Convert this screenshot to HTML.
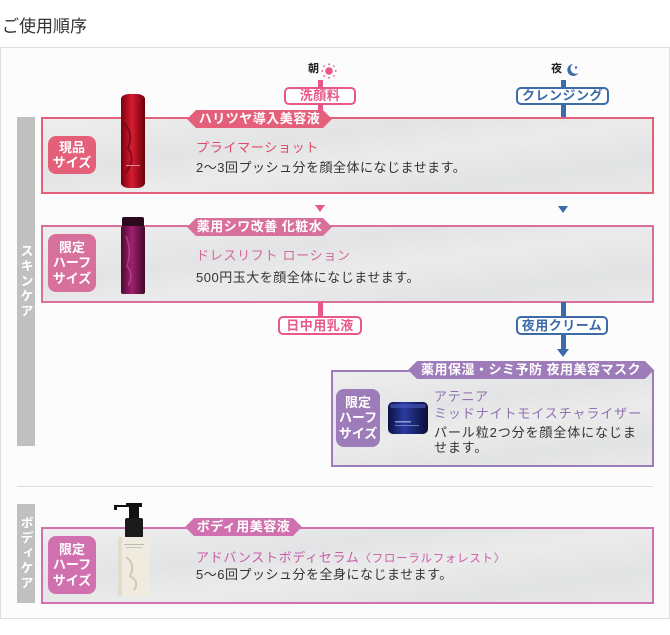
<!DOCTYPE html>
<html><head><meta charset="utf-8">
<style>
*{margin:0;padding:0;box-sizing:border-box}
body{width:670px;height:635px;background:#fff;position:relative;overflow:hidden;font-family:"Liberation Sans","Noto Sans CJK JP",sans-serif;color:#333}
.a{position:absolute}
.title{left:2px;top:16px;font-size:17px;line-height:21px;color:#333}
.outer{left:0;top:47px;width:670px;height:572px;border:1px solid #ddd;background:#fcfcfc}
.side{background:#c0c0c0;color:#fff;font-weight:bold;font-size:13px;writing-mode:vertical-rl;text-align:center;display:flex;align-items:center;justify-content:center;letter-spacing:2px}
.box{border:2px solid;background:linear-gradient(172deg,#eeeeee 0%,#e3e4e5 35%,#ebebeb 55%,#e2e3e4 80%,#e9e9e9 100%)}
.rib{color:#fff;font-weight:bold;font-size:13px;line-height:18px;height:18px;text-align:center;clip-path:polygon(0 50%,9px 0,calc(100% - 9px) 0,100% 50%,calc(100% - 9px) 100%,9px 100%);letter-spacing:0.5px}
.badge{color:#fff;font-weight:bold;font-size:13px;border-radius:8px;text-align:center;display:flex;flex-direction:column;justify-content:center;line-height:15.5px}
.lbl{background:#fff;border:2px solid;border-radius:5px;font-weight:bold;font-size:13px;line-height:14px;text-align:center;letter-spacing:0.5px}
.nm{font-size:13px;line-height:13px;white-space:nowrap;letter-spacing:0.7px}
.ds{font-size:13px;line-height:13px;white-space:nowrap;color:#333;letter-spacing:0.5px}
.vl{width:5px}
.tri{width:0;height:0;border-left:5.5px solid transparent;border-right:5.5px solid transparent;border-top:7px solid}
</style></head><body>
<div class="a title">ご使用順序</div>
<div class="a outer"></div>

<!-- side bars -->
<div class="a side" style="left:17px;top:117px;width:18px;height:329px">スキンケア</div>
<div class="a side" style="left:17px;top:504px;width:18px;height:99px">ボディケア</div>
<div class="a" style="left:17px;top:486px;width:636px;height:1px;background:#ddd"></div>

<!-- morning / night -->
<div class="a" style="left:308px;top:63px;font-size:11px;line-height:13px;font-weight:bold;color:#222">朝</div>
<svg class="a" style="left:321px;top:63px" width="16" height="16" viewBox="0 0 16 16">
<circle cx="8" cy="8" r="3.8" fill="#e8588a"/>
<g fill="#e8588a"><rect x="7.2" y="0.5" width="1.6" height="1.6"/><rect x="7.2" y="13.9" width="1.6" height="1.6"/><rect x="0.5" y="7.2" width="1.6" height="1.6"/><rect x="13.9" y="7.2" width="1.6" height="1.6"/><rect x="2.4" y="2.4" width="1.5" height="1.5"/><rect x="12.1" y="2.4" width="1.5" height="1.5"/><rect x="2.4" y="12.1" width="1.5" height="1.5"/><rect x="12.1" y="12.1" width="1.5" height="1.5"/></g></svg>
<div class="a" style="left:551px;top:63px;font-size:11px;line-height:13px;font-weight:bold;color:#222">夜</div>
<svg class="a" style="left:566px;top:63px" width="13" height="14" viewBox="0 0 13 14">
<path d="M7 1 A6 6 0 1 0 12.5 10 A5 5 0 0 1 7 1 Z" fill="#3b6ba8"/><circle cx="10" cy="4.5" r="1.2" fill="#3b6ba8"/></svg>

<!-- top connectors -->
<div class="a vl" style="left:318px;top:80px;height:38px;background:#e8588a"></div>
<div class="a vl" style="left:561px;top:80px;height:38px;background:#3b6ba8"></div>
<div class="a lbl" style="left:284px;top:87px;width:72px;height:18px;border-color:#e8588a;color:#e8588a">洗顔料</div>
<div class="a lbl" style="left:516px;top:87px;width:93px;height:18px;border-color:#3b6ba8;color:#3b6ba8">クレンジング</div>

<!-- box 1 -->
<div class="a box" style="left:41px;top:117px;width:613px;height:77px;border-color:#e4607a"></div>
<div class="a rib" style="left:187px;top:110px;width:145px;background:#e4607a">ハリツヤ導入美容液</div>
<div class="a badge" style="left:48px;top:136px;width:48px;height:38px;background:#e4607a"><span>現品</span><span>サイズ</span></div>
<svg class="a" style="left:120px;top:93px" width="26" height="96" viewBox="0 0 26 96">
<defs><linearGradient id="rb" x1="0" x2="1"><stop offset="0" stop-color="#7a0010"/><stop offset="0.45" stop-color="#d81c30"/><stop offset="1" stop-color="#6a000c"/></linearGradient></defs>
<rect x="1" y="1" width="24" height="94" rx="8" ry="5" fill="url(#rb)"/>
<path d="M4 30 Q14 40 8 55 Q16 65 6 80" stroke="#5a0010" stroke-width="2" fill="none" opacity="0.6"/>
<rect x="6" y="72" width="14" height="1" fill="#f0c0c0" opacity="0.7"/></svg>
<div class="a nm" style="left:196px;top:141px;color:#e04a68">プライマーショット</div>
<div class="a ds" style="left:196px;top:161px">2〜3回プッシュ分を顔全体になじませます。</div>

<!-- arrows between 1 and 2 -->
<div class="a tri" style="left:315px;top:205px;border-top-color:#e8588a"></div>
<div class="a tri" style="left:558px;top:206px;border-top-color:#3b6ba8"></div>

<!-- box 2 -->
<div class="a box" style="left:41px;top:225px;width:613px;height:78px;border-color:#d8709c"></div>
<div class="a rib" style="left:187px;top:218px;width:145px;background:#d8709c">薬用シワ改善 化粧水</div>
<div class="a badge" style="left:48px;top:234px;width:48px;height:58px;background:#d8709c"><span>限定</span><span>ハーフ</span><span>サイズ</span></div>
<svg class="a" style="left:120px;top:216px" width="26" height="80" viewBox="0 0 26 80">
<defs><linearGradient id="pb" x1="0" x2="1"><stop offset="0" stop-color="#4a0a30"/><stop offset="0.45" stop-color="#a02070"/><stop offset="1" stop-color="#40082a"/></linearGradient></defs>
<rect x="2" y="1" width="22" height="10" rx="2" fill="#2a0a1c"/>
<rect x="1" y="10" width="24" height="68" rx="2" fill="url(#pb)"/>
<path d="M6 20 Q12 35 7 50 Q14 58 8 70" stroke="#d070a8" stroke-width="1.5" fill="none" opacity="0.5"/></svg>
<div class="a nm" style="left:196px;top:249px;color:#d4689a">ドレスリフト ローション</div>
<div class="a ds" style="left:196px;top:271px">500円玉大を顔全体になじませます。</div>

<!-- connectors below box 2 -->
<div class="a vl" style="left:318px;top:302px;height:15px;background:#e8588a"></div>
<div class="a vl" style="left:561px;top:302px;height:48px;background:#3b6ba8"></div>
<div class="a tri" style="left:557px;top:349px;border-left-width:6.5px;border-right-width:6.5px;border-top-width:8px;border-top-color:#3b6ba8"></div>
<div class="a lbl" style="left:278px;top:316px;width:84px;height:19px;border-color:#e8588a;color:#e8588a;line-height:15px">日中用乳液</div>
<div class="a lbl" style="left:516px;top:316px;width:92px;height:19px;border-color:#3b6ba8;color:#3b6ba8;line-height:15px">夜用クリーム</div>

<!-- box 3 -->
<div class="a box" style="left:331px;top:370px;width:323px;height:97px;border-color:#9d7cb9"></div>
<div class="a rib" style="left:408px;top:361px;width:246px;background:#9d7cb9">薬用保湿・シミ予防 夜用美容マスク</div>
<div class="a badge" style="left:336px;top:389px;width:44px;height:58px;background:#9d7cb9"><span>限定</span><span>ハーフ</span><span>サイズ</span></div>
<svg class="a" style="left:387px;top:401px" width="42" height="34" viewBox="0 0 42 34">
<defs><linearGradient id="jb" x1="0" x2="1"><stop offset="0" stop-color="#0c1040"/><stop offset="0.4" stop-color="#2a3aa0"/><stop offset="1" stop-color="#0a0e38"/></linearGradient></defs>
<rect x="1" y="1" width="40" height="32" rx="5" fill="url(#jb)"/>
<rect x="3" y="3" width="36" height="4" rx="2" fill="#4a5ac0" opacity="0.6"/>
<rect x="8" y="20" width="16" height="1.5" fill="#c0c8f0" opacity="0.7"/><rect x="8" y="24" width="24" height="1" fill="#c0c8f0" opacity="0.5"/></svg>
<div class="a nm" style="left:434px;top:390px;color:#9070b0">アテニア</div>
<div class="a nm" style="left:434px;top:407px;color:#9070b0;letter-spacing:0.9px">ミッドナイトモイスチャライザー</div>
<div class="a ds" style="left:434px;top:426px;letter-spacing:0.9px">パール粒2つ分を顔全体になじま</div>
<div class="a ds" style="left:434px;top:441px;letter-spacing:0.9px">せます。</div>

<!-- box 4 -->
<div class="a box" style="left:41px;top:527px;width:613px;height:77px;border-color:#d070ae"></div>
<div class="a rib" style="left:185px;top:518px;width:117px;background:#d070ae">ボディ用美容液</div>
<div class="a badge" style="left:48px;top:536px;width:48px;height:58px;background:#d070ae"><span>限定</span><span>ハーフ</span><span>サイズ</span></div>
<svg class="a" style="left:112px;top:502px" width="40" height="95" viewBox="0 0 40 95">
<path d="M2 3 L2 8 L5 8 L5 5 L30 5 L30 1 L14 1 L14 3 Z" fill="#111"/>
<rect x="17" y="5" width="10" height="12" fill="#111"/>
<rect x="13" y="16" width="18" height="20" rx="2" fill="#1a1a1a"/>
<rect x="6" y="35" width="32" height="59" rx="4" fill="#efebde"/>
<rect x="6" y="35" width="4" height="59" fill="#d8d2c0" opacity="0.6"/>
<rect x="12" y="42" width="20" height="1" fill="#999" opacity="0.6"/><rect x="14" y="45" width="16" height="1" fill="#999" opacity="0.5"/>
<path d="M14 55 Q24 62 18 74 Q28 80 22 88" stroke="#cfc8b4" stroke-width="2" fill="none"/></svg>
<div class="a nm" style="left:196px;top:551px;color:#cc5ca8">アドバンストボディセラム<span style="font-size:11.5px">〈フローラルフォレスト〉</span></div>
<div class="a ds" style="left:196px;top:568px">5〜6回プッシュ分を全身になじませます。</div>
</body></html>
